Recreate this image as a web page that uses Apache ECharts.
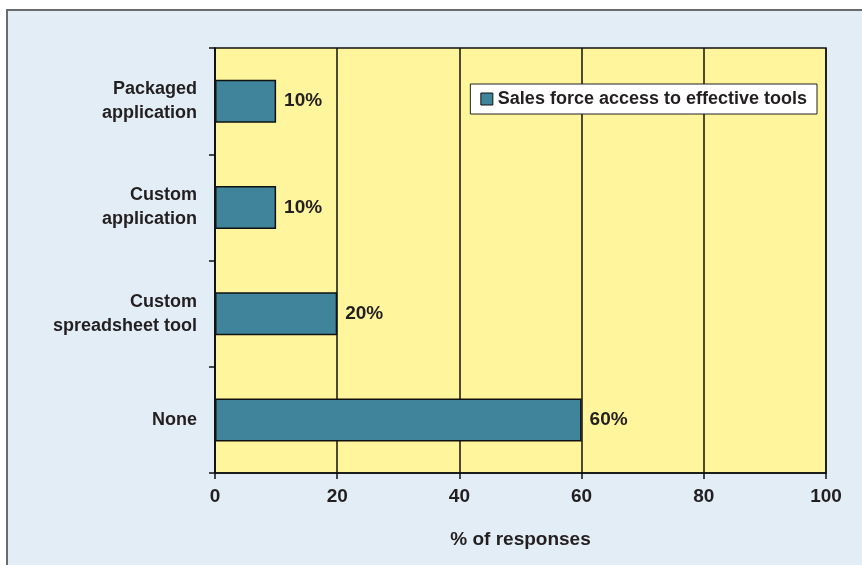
<!DOCTYPE html>
<html>
<head>
<meta charset="utf-8">
<script src="https://cdn.jsdelivr.net/npm/echarts@6/dist/echarts.min.js"></script>
<style>
  html, body { margin: 0; padding: 0; background: #ffffff; }
  #frame {
    position: absolute; left: 6px; top: 9px; width: 870px; height: 570px;
    background: #e3edf6; border: 2px solid #6b6b6b; box-sizing: border-box;
  }
  #chart { position: absolute; left: 0; top: 0; width: 862px; height: 565px; }
</style>
</head>
<body>
<div id="frame"></div>
<div id="chart"></div>
<script>
  const categories = ["None", "Custom\nspreadsheet tool", "Custom\napplication", "Packaged\napplication"];
  const values = [60, 20, 10, 10];
  const seriesName = "Sales force access to effective tools";
  const xTicks = [0, 20, 40, 60, 80, 100];

  const font = "'Liberation Sans', Arial, sans-serif";
  const ink = "#231f20";

  const chart = echarts.init(document.getElementById("chart"));
  chart.setOption({
    animation: false,
    textStyle: { fontFamily: font },
    legend: {
      data: [{ name: seriesName, icon: "rect" }],
      top: 84,
      right: 45,
      backgroundColor: "#ffffff",
      borderColor: "#222",
      borderWidth: 1,
      padding: [6, 10, 6, 10],
      itemWidth: 12,
      itemHeight: 12,
      itemGap: 6,
      itemStyle: { borderColor: "#111", borderWidth: 1 },
      textStyle: { fontFamily: font, fontWeight: "bold", fontSize: 18, color: ink }
    },
    grid: {
      left: 215, right: 36, top: 48, bottom: 92,
      show: true, backgroundColor: "#fff59d", borderColor: "#111", borderWidth: 1.5
    },
    xAxis: {
      type: "value",
      min: 0, max: 100, interval: 20,
      name: "% of responses",
      nameLocation: "middle",
      nameGap: 57,
      nameTextStyle: { fontFamily: font, fontWeight: "bold", fontSize: 19, color: ink },
      axisLine: { show: true, lineStyle: { color: "#111", width: 1.5 } },
      axisTick: { show: true, length: 6, lineStyle: { color: "#111", width: 1.5 } },
      axisLabel: {
        fontFamily: font, fontWeight: "bold", fontSize: 19, color: ink, margin: 14,
        formatter: function (v) { return xTicks.indexOf(v) >= 0 ? String(v) : ""; }
      },
      splitLine: { show: true, lineStyle: { color: "#111", width: 1.5 } }
    },
    yAxis: {
      type: "category",
      data: categories,
      axisLine: { show: true, lineStyle: { color: "#111", width: 1.5 } },
      axisTick: { show: true, length: 6, lineStyle: { color: "#111", width: 1.5 } },
      axisLabel: {
        fontFamily: font, fontWeight: "bold", fontSize: 18, color: ink,
        margin: 18, align: "right", lineHeight: 24
      }
    },
    series: [
      {
        name: seriesName,
        type: "bar",
        data: values,
        barWidth: 43,
        itemStyle: { color: "#40849c", borderColor: "#111", borderWidth: 1.5 },
        label: {
          show: true, position: "right", distance: 8,
          fontFamily: font, fontWeight: "bold", fontSize: 19, color: ink,
          formatter: "{c}%"
        }
      }
    ]
  });
</script>
</body>
</html>
